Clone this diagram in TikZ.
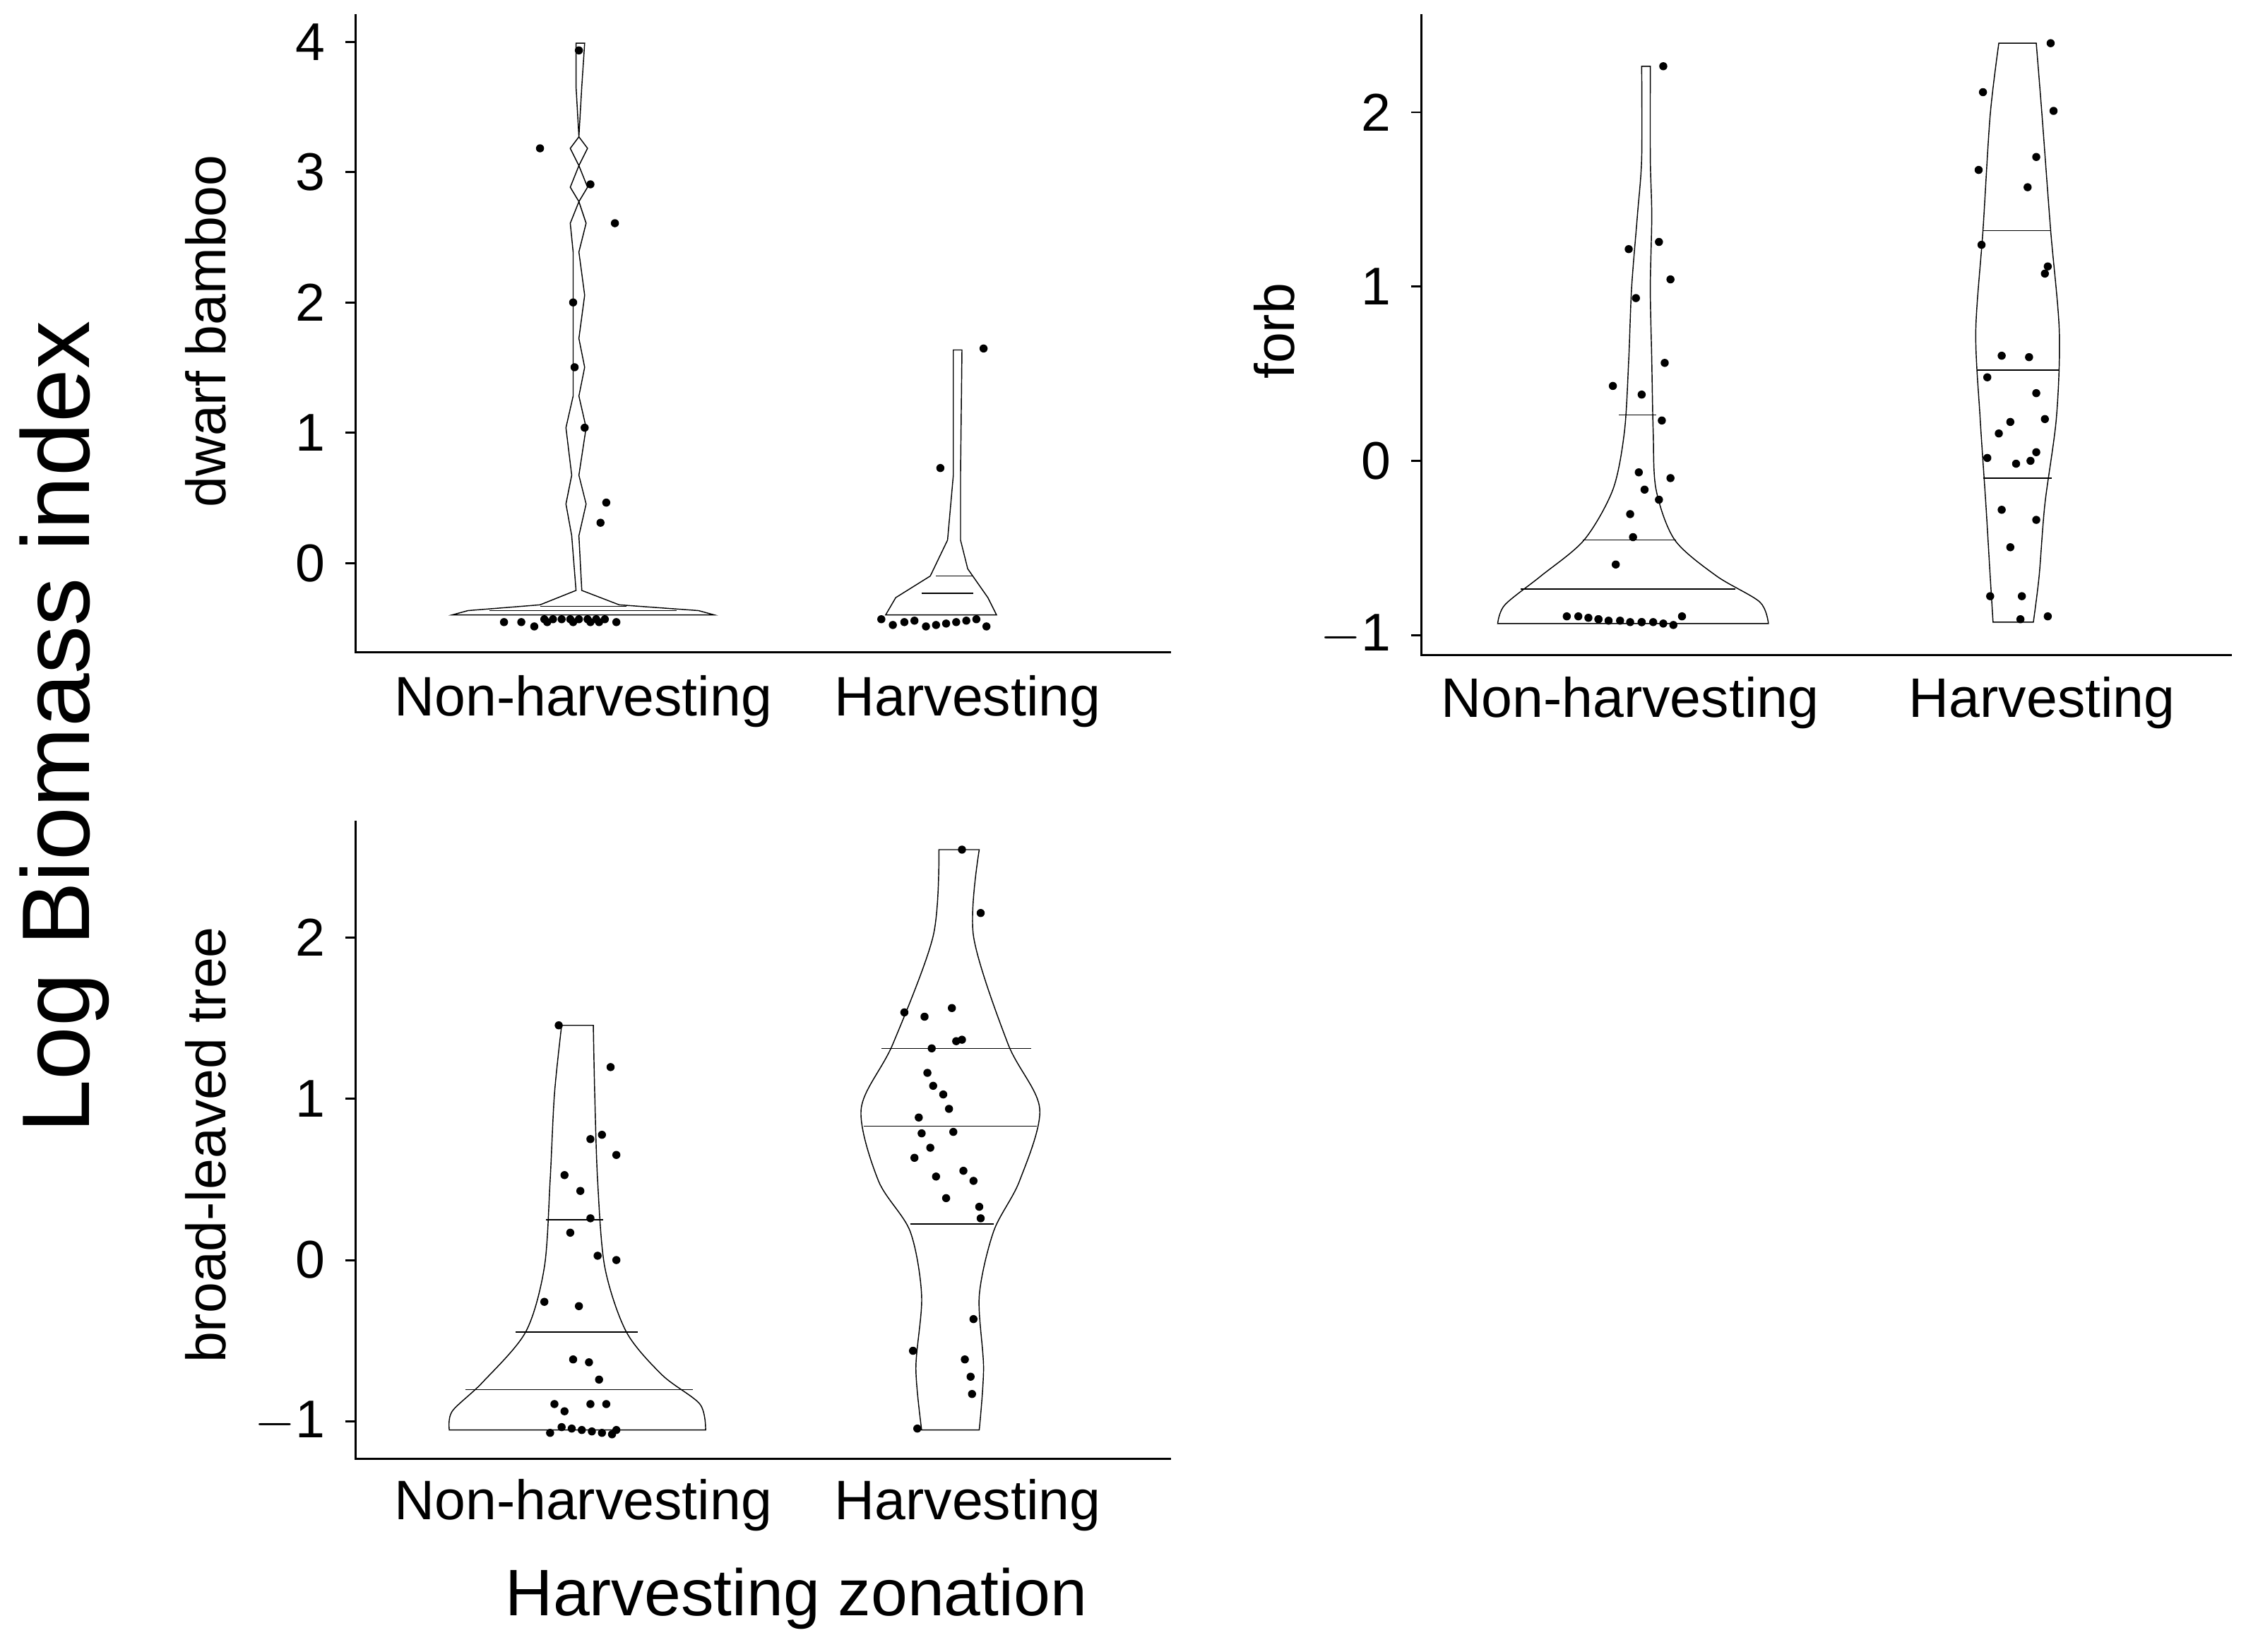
\documentclass[tikz,border=0pt]{standalone}
\usepackage{fontspec}
\setmainfont{Liberation Sans}
\begin{document}
\begin{tikzpicture}[x=0.02cm,y=-0.02cm,
  ax/.style={line width=0.8pt},
  vio/.style={line width=0.4pt},
  q/.style={line width=0.4pt},
  tl/.style={font=\fontsize{21}{24}\selectfont,anchor=east},
  cl/.style={font=\fontsize{22}{26}\selectfont},
  yl/.style={font=\fontsize{22}{26}\selectfont,rotate=90},
  dot/.style={circle,fill=black,inner sep=0pt,minimum size=3.2pt}]
\useasboundingbox (0,0) rectangle (1568,1147);
% ---------- panel 1
\draw[ax] (247,10) -- (247,453) -- (813,453);
\foreach \v/\t in {4/4,3/3,2/2,1/1,0/0}{\draw[ax] (247,391-90.5*\v) -- (240,391-90.5*\v); \node[tl] at (232,391-90.5*\v) {\t};}
\node[cl] at (405,487) {Non-harvesting};
\node[cl] at (672,487) {Harvesting};
\node[yl] at (143,230) {dwarf bamboo};
\draw[vio] (400,30) -- (406,30) -- (404,60) -- (402,95) -- (408,103) -- (402,115) -- (408,130) -- (402,140) -- (407,155) -- (402,175) -- (406,205) -- (402,235) -- (406,255) -- (402,275) -- (407,297) -- (402,330) -- (407,350) -- (402,372) -- (404,410) -- (430,420) -- (485,424) -- (496,427) -- (314,427) -- (325,424) -- (375,420) -- (400,410) -- (397,372) -- (393,350) -- (397,330) -- (393,297) -- (398,275) -- (398,255) -- (398,235) -- (398,205) -- (398,175) -- (396,155) -- (402,140) -- (396,130) -- (402,115) -- (396,103) -- (402,95) -- (400,60) -- cycle;
\draw[q] (340,424) -- (470,424);
\draw[q] (375,421) -- (435,421);
\draw[vio] (662,243) -- (668,243) -- (667,330) -- (667,375) -- (672,395) -- (686,415) -- (692,427) -- (615,427) -- (622,415) -- (646,400) -- (658,375) -- (662,330) -- cycle;
\draw[q] (640,412) -- (676,412);
\draw[q] (650,400) -- (676,400);
\foreach \x/\y in {375/103, 402/35, 410/128, 427/155, 398/210, 399/255, 406/297, 421/349, 417/363}{\node[dot] at (\x,\y) {};}
\foreach \x in {350,362,371,378,384,390,396,402,408,414,420,428,380,398,410,416}{\node[dot] at (\x,{430+mod(\x*7,6)}) {};}
\node[dot] at (683,242) {}; \node[dot] at (653,325) {};
\foreach \x in {612,620,628,635,643,650,657,664,671,678,685}{\node[dot] at (\x,{430+mod(\x*5,6)}) {};}
% ---------- panel 2
\draw[ax] (987,10) -- (987,455) -- (1550,455);
\foreach \v/\t in {2/2,1/1,0/0,-1/$-$1}{\draw[ax] (987,320-121*\v) -- (980,320-121*\v); \node[tl] at (972,320-121*\v) {\t};}
\node[cl] at (1132,488) {Non-harvesting};
\node[cl] at (1418,488) {Harvesting};
\node[yl] at (885,230) {forb};
\draw[vio] plot[smooth] coordinates {(1140,46) (1140,110) (1137,150) (1133,200) (1131,250) (1128,300) (1120,340) (1100,375) (1070,400) (1045,420) (1040,433)}
  -- plot[smooth] coordinates {(1228,433) (1222,418) (1192,400) (1163,375) (1150,340) (1148,300) (1147,250) (1146,200) (1147,150) (1146,110) (1146,46)} -- cycle;
\draw[q] (1124,288) -- (1150,288);
\draw[q] (1099,375) -- (1164,375);
\draw[q] (1056,409) -- (1205,409);
\draw[vio] plot[smooth] coordinates {(1388,30) (1382,80) (1377,160) (1372,230) (1375,290) (1379,350) (1382,400) (1384,432)}
  -- plot[smooth] coordinates {(1412,432) (1416,400) (1420,350) (1428,290) (1430,230) (1424,160) (1418,80) (1414,30)} -- cycle;
\draw[q] (1377,160) -- (1424,160);
\draw[q] (1373,257) -- (1430,257);
\draw[q] (1377,332) -- (1425,332);
\foreach \x/\y in {1155/46, 1131/173, 1152/168, 1160/194, 1136/207, 1156/252, 1120/268, 1140/274, 1154/292, 1138/328, 1160/332, 1142/340, 1152/347, 1132/357, 1122/392, 1134/373}{\node[dot] at (\x,\y) {};}
\foreach \x in {1088,1096,1103,1110,1117,1125,1132,1140,1148,1155,1162,1168,1110,1140}{\node[dot] at (\x,{428+mod(\x*7,8)}) {};}
\foreach \x/\y in {1424/30, 1377/64, 1426/77, 1374/118, 1414/109, 1408/130, 1376/170, 1422/185, 1420/190, 1390/247, 1409/248, 1380/262, 1414/273, 1396/293, 1388/301, 1420/291, 1414/314, 1400/322, 1410/320, 1380/318, 1414/361, 1390/354, 1396/380, 1403/430, 1422/428, 1404/414, 1382/414}{\node[dot] at (\x,\y) {};}
% ---------- panel 3
\draw[ax] (247,570) -- (247,1013) -- (813,1013);
\foreach \v/\t in {2/2,1/1,0/0,-1/$-$1}{\draw[ax] (247,875-112*\v) -- (240,875-112*\v); \node[tl] at (232,875-112*\v) {\t};}
\node[cl] at (405,1045) {Non-harvesting};
\node[cl] at (672,1045) {Harvesting};
\node[yl] at (143,795) {broad-leaved tree};
\node[font=\fontsize{26}{30}\selectfont] at (553,1110) {Harvesting zonation};
\node[font=\fontsize{38}{44}\selectfont,rotate=90] at (45,505) {Log Biomass index};
\draw[vio] plot[smooth] coordinates {(390,712) (385,760) (382,820) (378,880) (365,925) (335,960) (314,980) (312,993)}
  -- plot[smooth] coordinates {(490,993) (486,975) (460,955) (435,925) (420,880) (415,820) (413,760) (412,712)} -- cycle;
\draw[q] (379,847) -- (419,847);
\draw[q] (358,925) -- (443,925);
\draw[q] (323,965) -- (481,965);
\draw[vio] plot[smooth] coordinates {(652,590) (648,650) (620,725) (598,770) (610,820) (632,855) (640,900) (636,950) (640,993)}
  -- plot[smooth] coordinates {(680,993) (683,950) (680,900) (690,855) (708,820) (722,770) (700,725) (676,650) (680,590)} -- cycle;
\draw[q] (612,728) -- (716,728);
\draw[q] (600,782) -- (720,782);
\draw[q] (632,850) -- (690,850);
\foreach \x/\y in {388/712, 424/741, 410/791, 418/788, 428/802, 392/816, 403/827, 410/846, 396/856, 415/872, 428/875, 378/904, 402/907, 398/944, 409/946, 416/958, 385/975, 410/975, 421/975, 392/980}{\node[dot] at (\x,\y) {};}
\foreach \x in {382,390,397,404,411,418,425,428}{\node[dot] at (\x,{991+mod(\x*7,6)}) {};}
\foreach \x/\y in {668/590, 681/634, 628/703, 642/706, 661/700, 647/728, 664/723, 668/722, 644/745, 648/754, 655/760, 659/770, 638/776, 662/786, 640/787, 646/797, 635/804, 650/817, 669/813, 676/820, 657/832, 680/838, 681/846, 676/916, 634/938, 670/944, 674/956, 675/968, 637/992}{\node[dot] at (\x,\y) {};}
\end{tikzpicture}
\end{document}
